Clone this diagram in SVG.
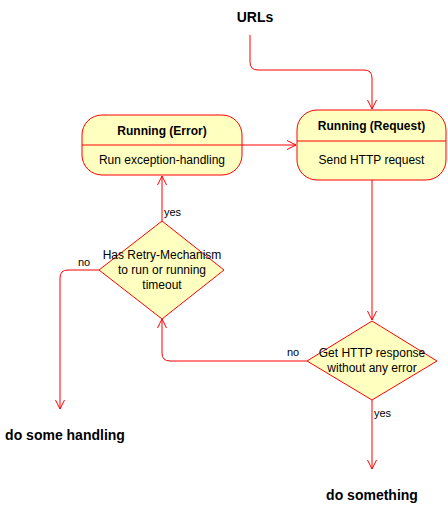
<svg xmlns="http://www.w3.org/2000/svg" width="448" height="511" viewBox="0 0 448 511">
<style>
text{font-family:"Liberation Sans",Arial,sans-serif;fill:#000}
.big{font-size:14px;font-weight:bold}
.t{font-size:12px;font-weight:bold}
.b{font-size:12px}
.l{font-size:11px}
.shape{fill:#FFFFC0;stroke:#FF0000;stroke-width:1}
.c{fill:none;stroke:#FF0000;stroke-width:1}
</style>
<defs>
<marker id="arr" markerWidth="12" markerHeight="12" refX="10" refY="6" orient="auto" markerUnits="userSpaceOnUse">
<path d="M1,1.5 L10,6 L1,10.5" fill="none" stroke="#FF0000" stroke-width="1"/>
</marker>
</defs>
<rect width="448" height="511" fill="#fff"/>
<g id="connectors">
<path class="c" d="M250,35 V62 Q250,70 258,70 H364 Q372,70 372,78 V109" marker-end="url(#arr)"/>
<path class="c" d="M242,145 H296" marker-end="url(#arr)"/>
<path class="c" d="M372,180 V320" marker-end="url(#arr)"/>
<path class="c" d="M307,361 H170 Q162,361 162,353 V319" marker-end="url(#arr)"/>
<path class="c" d="M162,221 V176" marker-end="url(#arr)"/>
<path class="c" d="M99,270 H68 Q60,270 60,278 V409" marker-end="url(#arr)"/>
<path class="c" d="M372,400 V469" marker-end="url(#arr)"/>
<text class="l" x="164" y="216">yes</text>
<text class="l" x="78" y="266">no</text>
<text class="l" x="287" y="356">no</text>
<text class="l" x="374" y="417">yes</text>
</g>
<g id="urls"><text class="big" x="255" y="22" text-anchor="middle">URLs</text></g>
<g id="running-request">
<rect class="shape" x="297" y="110" width="149" height="70" rx="20"/>
<line class="c" x1="297" y1="141" x2="446" y2="141"/>
<text class="t" x="371.5" y="130" text-anchor="middle">Running (Request)</text>
<text class="b" x="371.5" y="164" text-anchor="middle">Send HTTP request</text>
</g>
<g id="running-error">
<rect class="shape" x="82" y="115" width="160" height="60" rx="20"/>
<line class="c" x1="82" y1="145" x2="242" y2="145"/>
<text class="t" x="162" y="135" text-anchor="middle">Running (Error)</text>
<text class="b" x="162" y="164" text-anchor="middle">Run exception-handling</text>
</g>
<g id="retry-decision">
<polygon class="shape" points="162,221 224,270 162,319 99,270"/>
<text class="b" x="162" y="259" text-anchor="middle">Has Retry-Mechanism</text>
<text class="b" x="162" y="274" text-anchor="middle">to run or running</text>
<text class="b" x="162" y="289" text-anchor="middle">timeout</text>
</g>
<g id="response-decision">
<polygon class="shape" points="372,321 437,361 372,400 307,361"/>
<text class="b" x="372" y="357" text-anchor="middle">Get HTTP response</text>
<text class="b" x="372" y="372" text-anchor="middle">without any error</text>
</g>
<g id="do-some-handling"><text class="big" x="65" y="440" text-anchor="middle">do some handling</text></g>
<g id="do-something"><text class="big" x="372" y="500" text-anchor="middle">do something</text></g>
</svg>
